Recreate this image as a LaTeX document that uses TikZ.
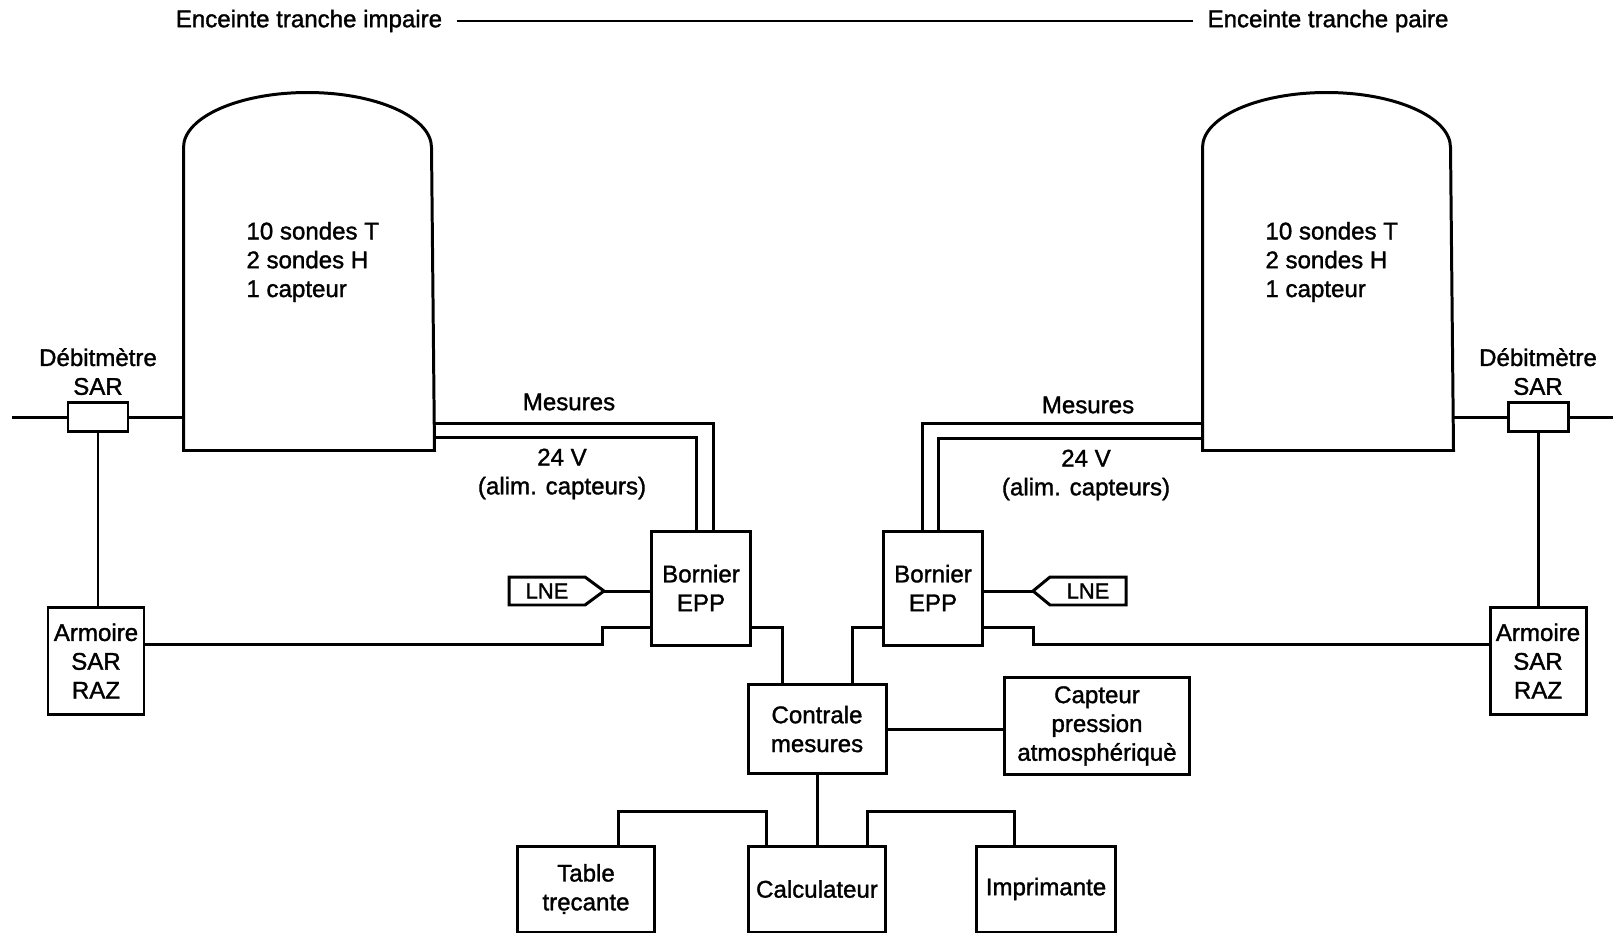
\documentclass[tikz,border=0pt]{standalone}
\usepackage{fontspec}
\setmainfont{Liberation Sans}[FakeBold=1.4]
\usetikzlibrary{positioning}

\begin{document}
\begin{tikzpicture}[x=0.2mm, y=-0.2mm, line width=1.7pt,
  lbl/.style={font=\fontsize{13.7pt}{16.4pt}\selectfont, align=center, inner sep=0pt},
  box/.style={lbl, draw},
  bornier/.style={box, minimum width=19.8mm, minimum height=22.8mm},
  armoire/.style={box, minimum width=19.2mm, minimum height=21.4mm},
  debit/.style={draw, minimum width=12mm, minimum height=5.8mm, inner sep=0pt},
  poste/.style={box, minimum width=27.4mm, minimum height=17.2mm},
  lne/.style={lbl, font=\fontsize{12.5pt}{15pt}\selectfont, minimum width=14.6mm, minimum height=5mm},
  enc/.style={minimum width=49.6mm, minimum height=60mm, inner sep=0pt}
]
  \useasboundingbox (0,0) rectangle (1613,932);

  \node[lbl, inner xsep=2.6mm] (ti) at (309,21) {Enceinte tranche impaire};
  \node[lbl, inner xsep=2.6mm] (tp) at (1328,21) {Enceinte tranche paire};
  \draw (ti.east) -- (tp.west);

  \node[enc] (encL) at (309,299) {};
  \node[enc] (encR) at (1328,299) {};
  \foreach \e in {encL,encR}
    \draw (\e.south west) -- (\e.north west)
      arc[start angle=180, end angle=0, x radius=24.8mm, y radius=11mm]
      -- (\e.south east) -- cycle;
  \node[lbl, align=left, anchor=west] (sL) at (245,262) {10 sondes T\\2 sondes H\\1 capteur};
  \node[lbl, align=left, anchor=west] (sR) at (1264,262) {10 sondes T\\2 sondes H\\1 capteur};

  \node[debit] (dL) at (98,417) {};
  \node[lbl, above=0.9mm of dL] (dLt) {Débitmètre\\SAR};
  \node[armoire] (aL) at (96,661) {Armoire\\SAR\\RAZ};
  \node[debit] (dR) at (1538,417) {};
  \node[lbl, above=0.9mm of dR] (dRt) {Débitmètre\\SAR};
  \node[armoire] (aR) at (1538,661) {Armoire\\SAR\\RAZ};

  \node[bornier] (bL) at (701,588) {Bornier\\EPP};
  \node[bornier] (bR) at (933,588) {Bornier\\EPP};
  \node[lne] (lL) at (547,591) {LNE};
  \node[lne] (lR) at (1088,591) {LNE};
  \coordinate (lLp) at ([xshift=3.8mm]lL.east);
  \coordinate (lRp) at ([xshift=-3.4mm]lR.west);
  \draw (lL.north west) -- (lL.north east) -- (lLp) -- (lL.south east) -- (lL.south west) -- cycle;
  \draw (lR.north east) -- (lR.north west) -- (lRp) -- (lR.south west) -- (lR.south east) -- cycle;

  \node[box, minimum width=27.6mm, minimum height=17.8mm] (cm) at (817,729) {Contrale\\mesures};
  \node[box, minimum width=37mm, minimum height=19.4mm] (cp) at (1097,726) {Capteur\\pression\\atmosphériquè};
  \node[poste] (tab) at (586,889) {Table\\trẹcante};
  \node[poste] (calc) at (817,889) {Calculateur};
  \node[poste, minimum width=27.8mm] (imp) at (1046,889) {Imprimante};

  \node[lbl] (mL) at (569,402) {Mesures};
  \node[lbl] (vL) at (562,474) {24 V\\(alim. capteurs)};
  \node[lbl] (mR) at (1088,405) {Mesures};
  \node[lbl] (vR) at (1086,475) {24 V\\(alim. capteurs)};

  \coordinate (pL) at (12,417);
  \coordinate (pR) at (1613,417);
  \coordinate (kL) at (602,627);
  \coordinate (kR) at (1033,627);

  \draw (pL) -- (dL.west) (dL.east) -- (dL.east -| encL.west);
  \draw (pR) -- (dR.east) (dR.west) -- (dR.west -| encR.east);
  \draw (dL.south) -- (dL.south |- aL.north);
  \draw (dR.south) -- (dR.south |- aR.north);

  \draw ([yshift=5.4mm]encL.south east) -| ([xshift=2.4mm]bL.north);
  \draw ([yshift=2.6mm]encL.south east) -| ([xshift=-1mm]bL.north);
  \draw ([yshift=5.4mm]encR.south west) -| ([xshift=-2.2mm]bR.north);
  \draw ([yshift=2.4mm]encR.south west) -| ([xshift=1mm]bR.north);

  \draw (lLp) -- (lLp -| bL.west);
  \draw (lRp) -- (lRp -| bR.east);
  \draw ([yshift=3.4mm]aL.east) -| (kL) -- (kL -| bL.west);
  \draw ([yshift=3.4mm]aR.west) -| (kR) -- (kR -| bR.east);
  \draw (kL -| bL.east) -| ([xshift=-7mm]cm.north);
  \draw (kR -| bR.west) -| ([xshift=7mm]cm.north);

  \draw (cm.east) -- (cm.east -| cp.west);
  \draw (cm.south) -- (calc.north);
  \draw ([xshift=6.5mm]tab.north) -- ++(0,-33) -| ([xshift=-10.2mm]calc.north);
  \draw ([xshift=10mm]calc.north) -- ++(0,-33) -| ([xshift=-6.3mm]imp.north);
\end{tikzpicture}
\end{document}
